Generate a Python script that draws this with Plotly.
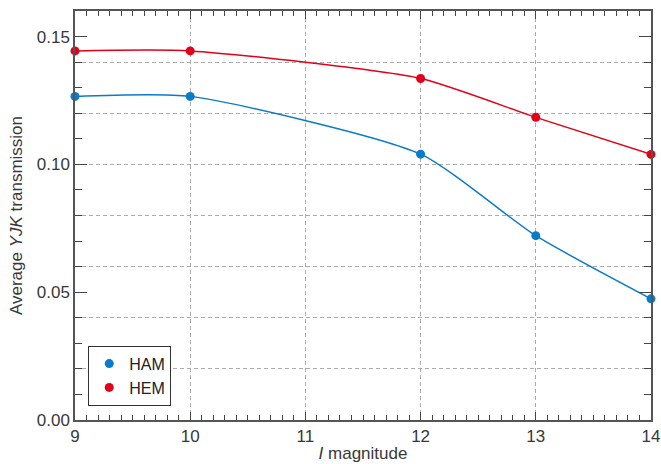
import plotly.graph_objects as go

mag = [9, 10, 12, 13, 14]
ham = [0.1266, 0.1266, 0.1040, 0.0721, 0.0474]
hem = [0.1444, 0.1444, 0.1336, 0.1184, 0.1039]
names = ["HAM", "HEM"]
colors = ["#0a7bc8", "#e2001a"]

fig = go.Figure()
for name, ys, c in zip(names, [ham, hem], colors):
    fig.add_trace(go.Scatter(x=mag, y=ys, mode="lines", line=dict(color=c, width=1.5, shape="spline", smoothing=0.6),
                             showlegend=False, yaxis="y", cliponaxis=False, hoverinfo="skip"))
for name, ys, c in zip(names, [ham, hem], colors):
    fig.add_trace(go.Scatter(x=mag, y=ys, mode="markers", name=name, marker=dict(color=c, size=9),
                             yaxis="y2", cliponaxis=False))

FAM = "Liberation Sans, Arial, sans-serif"
font = dict(family=FAM, size=17, color="#383838")
GRID = dict(showgrid=True, gridcolor="#ababab", griddash="4px,3px", gridwidth=1)
fig.update_layout(
    width=661, height=464,
    margin=dict(l=75, r=10, t=11, b=44),
    plot_bgcolor="white", paper_bgcolor="white",
    font=font,
    xaxis=dict(range=[9, 14], dtick=1, tick0=9, **GRID,
               ticks="inside", ticklen=8, tickcolor="#444", showline=True, linecolor="#555", linewidth=1.5,
               mirror="ticks", zeroline=False, automargin=False,
               minor=dict(dtick=0.1, ticks="inside", ticklen=5, tickcolor="#444", showgrid=False),
               title=dict(text="<i>I</i> magnitude", standoff=2, font=font)),
    yaxis=dict(range=[0, 0.16], dtick=0.02, tick0=0, **GRID,
               showticklabels=False, ticks="", showline=False, zeroline=False, automargin=False),
    yaxis2=dict(range=[0, 0.16], overlaying="y", side="left", dtick=0.05, tick0=0, tickformat=".2f",
                showgrid=False, zeroline=False, ticks="inside", ticklen=12, tickcolor="#444",
                showline=True, linecolor="#555", linewidth=1.5, mirror="ticks", automargin=False,
                minor=dict(dtick=0.01, ticks="inside", ticklen=7, tickcolor="#444", showgrid=False),
                title=dict(text="Average <i>YJK</i> transmission", standoff=10, font=font)),
    legend=dict(x=0.023, y=0.035, xanchor="left", yanchor="bottom", bordercolor="#333", borderwidth=1,
                bgcolor="white", font=dict(family=FAM, size=16, color="#222"),
                itemwidth=30, tracegroupgap=0),
)
fig.write_html("out.html", config={"displayModeBar": False},
               post_script="document.body.style.margin='0';document.body.style.padding='0';")
